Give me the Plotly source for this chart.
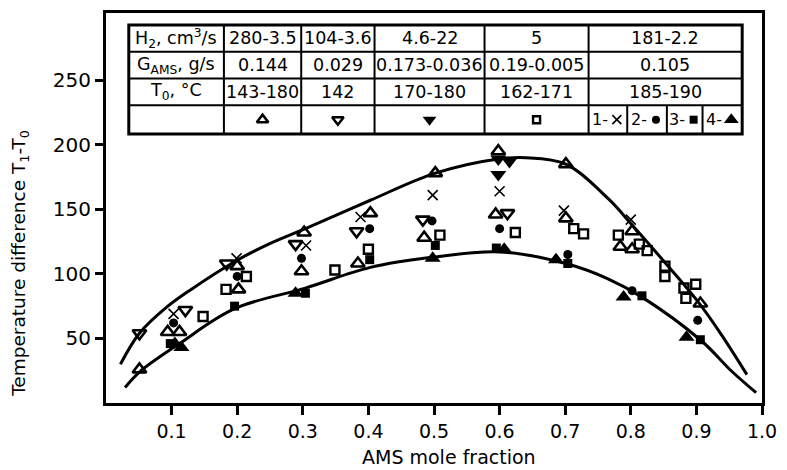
import plotly.graph_objects as go

# ---------------- data ----------------
tri_up_open_x = [0.051, 0.094, 0.112, 0.200, 0.202, 0.302, 0.298, 0.403, 0.384, 0.502, 0.485, 0.598, 0.594, 0.701, 0.701, 0.802, 0.784, 0.802, 0.906]
tri_up_open_y = [26, 55, 55, 106, 88, 132, 102, 147, 108, 178, 128, 195, 146, 185, 143, 133, 121, 119, 77]

tri_down_open_x = [0.051, 0.121, 0.184, 0.289, 0.382, 0.483, 0.612]
tri_down_open_y = [54, 72, 108, 123, 133, 142, 147]

tri_down_fill_x = [0.598, 0.615, 0.598]
tri_down_fill_y = [189, 187, 177]

square_open_x = [0.148, 0.214, 0.183, 0.349, 0.400, 0.509, 0.624, 0.713, 0.728, 0.781, 0.813, 0.825, 0.852, 0.852, 0.881, 0.899, 0.884]
square_open_y = [67, 98, 88, 103, 119, 130, 132, 135, 131, 130, 123, 118, 106, 98, 89, 92, 81]

cross_x = [0.103, 0.199, 0.305, 0.388, 0.498, 0.600, 0.698, 0.800]
cross_y = [69, 112, 122, 144, 161, 164, 149, 142]

circle_fill_x = [0.103, 0.200, 0.298, 0.402, 0.497, 0.600, 0.704, 0.802, 0.902]
circle_fill_y = [62, 98, 112, 135, 141, 135, 115, 87, 64]

square_fill_x = [0.098, 0.196, 0.304, 0.402, 0.502, 0.595, 0.704, 0.817, 0.906]
square_fill_y = [46, 75, 85, 111, 122, 120, 108, 83, 49]

tri_up_fill_x = [0.115, 0.105, 0.289, 0.498, 0.607, 0.686, 0.789, 0.885]
tri_up_fill_y = [43, 46, 85, 112, 119, 111, 82, 51]

upper_x = [0.022, 0.051, 0.092, 0.127, 0.198, 0.248, 0.304, 0.403, 0.502, 0.598, 0.640, 0.701, 0.766, 0.800, 0.850, 0.900, 0.938, 0.977]
upper_y = [30, 54, 74, 87, 110, 123, 135, 157, 178, 189, 190, 185, 158, 139, 110, 80, 53, 22]

lower_x = [0.029, 0.051, 0.112, 0.196, 0.304, 0.403, 0.500, 0.600, 0.701, 0.766, 0.817, 0.908, 0.953, 0.991]
lower_y = [12, 24, 46, 73, 89, 105, 113, 117, 108, 96, 82, 48, 25, 8]

x_ticks = [0.1, 0.2, 0.3, 0.4, 0.5, 0.6, 0.7, 0.8, 0.9, 1.0]
x_ticklabels = ["0.1", "0.2", "0.3", "0.4", "0.5", "0.6", "0.7", "0.8", "0.9", "1.0"]
y_ticks = [50, 100, 150, 200, 250]
y_ticklabels = ["50", "100", "150", "200", "250"]

table_rows = [
    ["H<sub>2</sub>, cm<sup>3</sup>/s", "280-3.5", "104-3.6", "4.6-22", "5", "181-2.2"],
    ["G<sub>AMS</sub>, g/s", "0.144", "0.029", "0.173-0.036", "0.19-0.005", "0.105"],
    ["T<sub>0</sub>, °C", "143-180", "142", "170-180", "162-171", "185-190"],
]
sub_labels = ["1-", "2-", "3-", "4-"]

x_title = "AMS mole fraction"
y_title = "Temperature difference T<sub>1</sub>-T<sub>0</sub>"

# ---------------- layout geometry (pixels) ----------------
W, H = 787, 470
L, R, T, B = 106, 768, 10, 403
FONT = "DejaVu Sans"

def pxx(px):
    return (px - L) / (R - L)

def pxy(py):
    return (B - py) / (B - T)

col_edges = [129, 225, 303, 377, 488, 593, 748]
sub_edges = [593, 632, 672, 708, 748]
row_edges = [22, 49, 76, 103, 132]

fig = go.Figure()

# curves
for cx_, cy_ in [(upper_x, upper_y), (lower_x, lower_y)]:
    fig.add_trace(go.Scatter(x=cx_, y=cy_, mode="lines",
                             line=dict(color="black", width=3, shape="spline", smoothing=1.0),
                             hoverinfo="skip"))

def mk(sym, size, lw=2.2):
    return dict(symbol=sym, size=size, color="black", line=dict(color="black", width=lw))

series = [
    (tri_up_open_x, tri_up_open_y, mk("triangle-up-open", 12, 2.6)),
    (tri_down_open_x, tri_down_open_y, mk("triangle-down-open", 12, 2.6)),
    (tri_down_fill_x, tri_down_fill_y, mk("triangle-down", 14, 0)),
    (square_open_x, square_open_y, mk("square-open", 9, 2.4)),
    (cross_x, cross_y, mk("x-thin-open", 10, 1.6)),
    (circle_fill_x, circle_fill_y, mk("circle", 9, 0)),
    (square_fill_x, square_fill_y, mk("square", 9, 0)),
    (tri_up_fill_x, tri_up_fill_y, mk("triangle-up", 14, 0)),
]
for sx, sy, m in series:
    fig.add_trace(go.Scatter(x=sx, y=sy, mode="markers", marker=m))

# ---------------- table ----------------
shapes = []
shapes.append(dict(type="rect", xref="paper", yref="paper",
                   x0=pxx(col_edges[0]), x1=pxx(col_edges[-1]),
                   y0=pxy(row_edges[-1]), y1=pxy(row_edges[0]),
                   line=dict(color="black", width=3), fillcolor="white", layer="below"))
for ry in row_edges[1:-1]:
    shapes.append(dict(type="line", xref="paper", yref="paper",
                       x0=pxx(col_edges[0]), x1=pxx(col_edges[-1]), y0=pxy(ry), y1=pxy(ry),
                       line=dict(color="black", width=2)))
for cx in col_edges[1:-1]:
    shapes.append(dict(type="line", xref="paper", yref="paper",
                       x0=pxx(cx), x1=pxx(cx), y0=pxy(row_edges[-1]), y1=pxy(row_edges[0]),
                       line=dict(color="black", width=2)))
for cx in sub_edges[1:-1]:
    shapes.append(dict(type="line", xref="paper", yref="paper",
                       x0=pxx(cx), x1=pxx(cx), y0=pxy(row_edges[-1]), y1=pxy(row_edges[-2]),
                       line=dict(color="black", width=2)))

annotations = []
for ri, row in enumerate(table_rows):
    cy = (row_edges[ri] + row_edges[ri + 1]) / 2
    for ci, txt in enumerate(row):
        cx = (col_edges[ci] + col_edges[ci + 1]) / 2
        annotations.append(dict(text=txt, xref="paper", yref="paper",
                                x=pxx(cx), y=pxy(cy), xanchor="center", yanchor="middle",
                                showarrow=False, font=dict(family=FONT, size=17.5, color="black")))

cy4 = (row_edges[3] + row_edges[4]) / 2
for i, lab in enumerate(sub_labels):
    cx = (sub_edges[i] + sub_edges[i + 1]) / 2
    annotations.append(dict(text=lab, xref="paper", yref="paper",
                            x=pxx(cx + 2), y=pxy(cy4), xanchor="right", yanchor="middle",
                            showarrow=False, font=dict(family=FONT, size=16, color="black")))

# legend-key markers in the table (overlay axes spanning the plot area)
key_x = [pxx((col_edges[i] + col_edges[i + 1]) / 2) for i in range(1, 5)]
for kx, (_, _, m) in zip(key_x, series[:4]):
    m2 = dict(m)
    m2["size"] = m["size"] - 2
    fig.add_trace(go.Scatter(x=[kx], y=[pxy(cy4)], mode="markers", marker=m2,
                             xaxis="x2", yaxis="y2", hoverinfo="skip"))
for i, (_, _, m) in enumerate(series[4:]):
    cx = (sub_edges[i] + sub_edges[i + 1]) / 2
    m2 = dict(m)
    m2["size"] = m["size"] - 1
    fig.add_trace(go.Scatter(x=[pxx(cx + 9)], y=[pxy(cy4)], mode="markers", marker=m2,
                             xaxis="x2", yaxis="y2", hoverinfo="skip"))

# axis titles
annotations.append(dict(text=x_title, xref="paper", yref="paper", x=pxx(452), y=pxy(457),
                        xanchor="center", yanchor="middle", showarrow=False,
                        font=dict(family=FONT, size=19, color="black")))
annotations.append(dict(text=y_title, xref="paper", yref="paper", x=pxx(19), y=pxy(262),
                        xanchor="center", yanchor="middle", showarrow=False, textangle=-90,
                        font=dict(family=FONT, size=18.5, color="black")))

fig.update_layout(
    width=W, height=H,
    margin=dict(l=L, r=W - R, t=T, b=H - B, pad=0),
    paper_bgcolor="white", plot_bgcolor="white",
    showlegend=False,
    shapes=shapes, annotations=annotations,
    font=dict(family=FONT, size=19, color="black"),
    xaxis=dict(range=[0, 1], showgrid=False, zeroline=False, showline=True, linewidth=3,
               linecolor="black", mirror=True, ticks="outside", ticklen=9, tickwidth=3,
               tickcolor="black", tickvals=x_ticks, ticktext=x_ticklabels,
               tickfont=dict(family=FONT, size=19, color="black")),
    yaxis=dict(range=[0, 302], showgrid=False, zeroline=False, showline=True, linewidth=3,
               linecolor="black", mirror=True, ticks="outside", ticklen=8, tickwidth=3,
               tickcolor="black", tickvals=y_ticks, ticktext=y_ticklabels,
               tickfont=dict(family=FONT, size=20, color="black")),
    xaxis2=dict(range=[0, 1], overlaying="x", visible=False, fixedrange=True),
    yaxis2=dict(range=[0, 1], overlaying="y", visible=False, fixedrange=True),
)

fig.write_html("out.html", config={"displayModeBar": False},
               post_script="document.body.style.margin='0px';")
